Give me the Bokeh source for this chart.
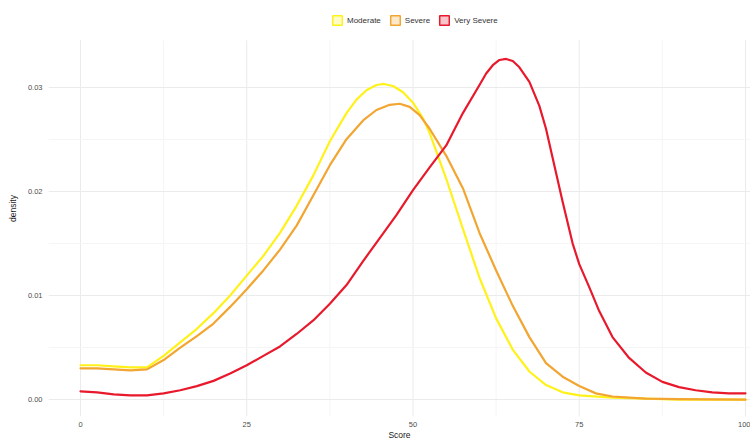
from bokeh.plotting import figure
from bokeh.models import Range1d, FixedTicker, Legend, LegendItem
from bokeh.embed import file_html
from bokeh.resources import INLINE

# ---- data ----
mod_x = [0, 2.5, 5, 7.5, 10, 12.5, 15, 17.5, 20, 22.5, 25, 27.5, 30, 32.5, 35, 37.5, 40, 41.5, 43, 44.5, 45.6,
         47, 48.5, 50, 51.5, 52.5, 55, 57.5, 60, 62.5, 65, 67.5, 70, 72.5, 75, 80, 85, 90, 100]
mod_y = [0.0033, 0.0033, 0.0032, 0.0031, 0.0031, 0.0042, 0.0055, 0.0068, 0.0083, 0.0100, 0.0119, 0.0138, 0.0160,
         0.0186, 0.0215, 0.0248, 0.0275, 0.0288, 0.0297, 0.0302, 0.0303, 0.0301, 0.0295, 0.0285, 0.0270,
         0.0256, 0.0212, 0.0164, 0.0117, 0.0078, 0.0048, 0.0027, 0.0014, 0.0007, 0.0004, 0.0002, 0.0001,
         0.0000, 0.0000]

sev_x = [0, 2.5, 5, 7.5, 10, 12.5, 15, 17.5, 20, 22.5, 25, 27.5, 30, 32.5, 35, 37.5, 40, 42.5, 44.5, 46.5, 48,
         49.5, 51, 52.5, 55, 57.5, 60, 62.5, 65, 67.5, 70, 72.5, 75, 77.5, 80, 85, 90, 100]
sev_y = [0.0030, 0.0030, 0.0029, 0.0028, 0.0029, 0.0038, 0.0050, 0.0061, 0.0073, 0.0089, 0.0106, 0.0124, 0.0144,
         0.0167, 0.0196, 0.0225, 0.0250, 0.0268, 0.0278, 0.0283, 0.0284, 0.0281, 0.0273, 0.0260,
         0.0234, 0.0203, 0.0160, 0.0124, 0.0090, 0.0060, 0.0035, 0.0022, 0.0013, 0.0006, 0.0003,
         0.0001, 0.00005, 0.0000]

vs_x = [0, 2.5, 5, 7.5, 10, 12.5, 15, 17.5, 20, 22.5, 25, 27.5, 30, 32.5, 35, 37.5, 40, 42.5, 45, 47.5, 50, 52.5,
        55, 57.5, 60, 61, 62, 63, 64, 65, 66, 67.5, 69, 70, 71, 72.5, 74, 75, 76.5, 78, 80, 82.5, 85, 87.5, 90,
        92.5, 95, 97.5, 100]
vs_y = [0.0008, 0.0007, 0.0005, 0.0004, 0.0004, 0.0006, 0.0009, 0.0013, 0.0018, 0.0025, 0.0033, 0.0042, 0.0051,
        0.0063, 0.0076, 0.0092, 0.0110, 0.0133, 0.0155, 0.0177, 0.0201, 0.0223,
        0.0244, 0.0275, 0.0302, 0.0313, 0.0321, 0.0326, 0.0327, 0.0325, 0.0319, 0.0305, 0.0282, 0.0260, 0.0232,
        0.0190, 0.0150, 0.0130, 0.0108, 0.0085, 0.0060, 0.0040, 0.0026, 0.0017, 0.0012,
        0.0009, 0.0007, 0.0006, 0.0006]

series_names = ["Moderate", "Severe", "Very Severe"]
series_colors = ["#FFF21A", "#F2A531", "#E8192C"]
x_ticks = [0, 25, 50, 75, 100]
x_minor = [12.5, 37.5, 62.5, 87.5]
y_ticks = [0.00, 0.01, 0.02, 0.03]
y_minor = [0.005, 0.015, 0.025]
y_tick_labels = {0.0: "0.00", 0.01: "0.01", 0.02: "0.02", 0.03: "0.03"}

FONT = "Liberation Sans"

# panel extent (ggplot-style expansion) and a top strip for the legend
X_LO, X_HI = -4.81, 100.75
Y_LO, Y_PANEL_TOP, Y_HI = -0.00162, 0.03449, 0.03831

p = figure(width=750, height=442, output_backend="svg", toolbar_location=None,
           x_range=Range1d(X_LO, X_HI), y_range=Range1d(Y_LO, Y_HI),
           min_border_left=48, min_border_right=0, min_border_top=0, min_border_bottom=24,
           background_fill_color="white", border_fill_color="white")
p.outline_line_color = None

# axes
p.xaxis.ticker = FixedTicker(ticks=x_ticks, minor_ticks=x_minor)
p.yaxis.ticker = FixedTicker(ticks=y_ticks, minor_ticks=y_minor)
p.yaxis.major_label_overrides = y_tick_labels
for ax in (p.xaxis[0], p.yaxis[0]):
    ax.axis_line_color = None
    ax.major_tick_line_color = None
    ax.minor_tick_line_color = None
    ax.major_tick_out = 0
    ax.major_tick_in = 0
    ax.minor_tick_out = 0
    ax.minor_tick_in = 0
    ax.major_label_text_font = FONT
    ax.major_label_text_font_size = "7.5px"
    ax.major_label_text_color = "#4D4D4D"
    ax.axis_label_text_font = FONT
    ax.axis_label_text_font_size = "8.5px"
    ax.axis_label_text_font_style = "normal"
    ax.axis_label_text_color = "#1A1A1A"
p.xaxis.axis_label = "Score"
p.yaxis.axis_label = "density"
p.xaxis.major_label_standoff = 5
p.xaxis.axis_label_standoff = 0
p.yaxis.major_label_standoff = 6
p.yaxis.axis_label_standoff = 7

# horizontal grid from bokeh; vertical grid drawn only over the panel area
p.xgrid.visible = False
g = p.ygrid[0]
g.grid_line_color = "#EBEBEB"
g.grid_line_width = 1
g.minor_grid_line_color = "#F5F5F5"
g.minor_grid_line_width = 1
p.segment(x0=x_minor, x1=x_minor, y0=[Y_LO] * len(x_minor), y1=[Y_PANEL_TOP] * len(x_minor),
          line_color="#F5F5F5", line_width=1, level="underlay")
p.segment(x0=x_ticks, x1=x_ticks, y0=[Y_LO] * len(x_ticks), y1=[Y_PANEL_TOP] * len(x_ticks),
          line_color="#EBEBEB", line_width=1, level="underlay")

series = [(mod_x, mod_y, series_colors[0]), (sev_x, sev_y, series_colors[1]), (vs_x, vs_y, series_colors[2])]

# legend keys: degenerate (zero-size) boxes at each curve's first point, hidden under the curves
items = []
for (xs, ys, c), name in zip(series, series_names):
    r = p.quad(left=[xs[0]], right=[xs[0]], top=[ys[0]], bottom=[ys[0]], line_color=c, line_width=1.5,
               fill_color=c, fill_alpha=0.25)
    items.append(LegendItem(label=name, renderers=[r]))

# density lines
for xs, ys, c in series:
    p.line(xs, ys, line_color=c, line_width=2.2, line_join="round", line_cap="round")

legend = Legend(items=items, orientation="horizontal", location=(283, 390),
                label_text_font=FONT, label_text_font_size="8px", label_text_color="#333333",
                glyph_width=12, glyph_height=12, label_standoff=4, spacing=8,
                padding=0, margin=0, background_fill_alpha=0, border_line_color=None,
                label_height=12)
p.add_layout(legend, "center")

open("out.html", "w").write(file_html(p, INLINE))
